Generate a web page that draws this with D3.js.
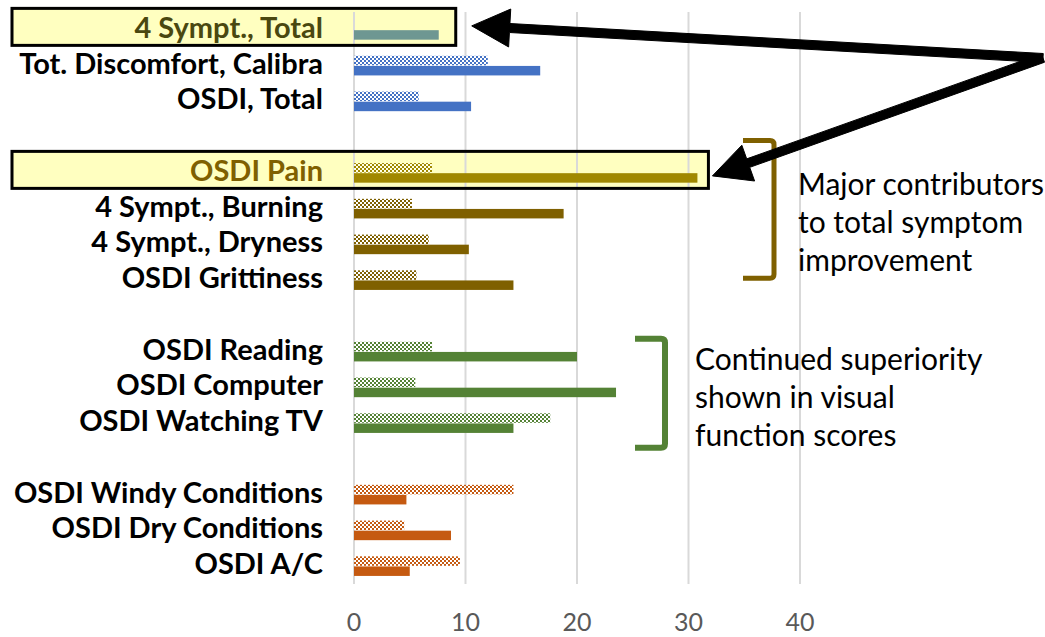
<!DOCTYPE html>
<html>
<head>
<meta charset="utf-8">
<script src="https://cdn.jsdelivr.net/npm/d3@7"></script>
<style>
  html, body { margin: 0; padding: 0; background: #ffffff; }
  svg { display: block; }
  text { font-family: Lato, "Open Sans", "Noto Sans", sans-serif; }
</style>
</head>
<body>
<svg id="chart" width="1045" height="637"></svg>
<script>
// Symptom and visual-function categories, top to bottom
const categories = [
  "4 Sympt., Total",
  "Tot. Discomfort, Calibra",
  "OSDI, Total",
  "OSDI Pain",
  "4 Sympt., Burning",
  "4 Sympt., Dryness",
  "OSDI Grittiness",
  "OSDI Reading",
  "OSDI Computer",
  "OSDI Watching TV",
  "OSDI Windy Conditions",
  "OSDI Dry Conditions",
  "OSDI A/C"
];
// Group each category belongs to (blank slot between groups)
const groupOf = [0, 0, 0, 1, 1, 1, 1, 2, 2, 2, 3, 3, 3];
// Checkered series (upper bar of each pair)
const checkeredValues = [null, 12.0, 5.8, 7.0, 5.2, 6.7, 5.6, 7.0, 5.5, 17.6, 14.3, 4.5, 9.5];
// Solid series (lower bar of each pair)
const solidValues = [7.6, 16.7, 10.5, 30.8, 18.8, 10.3, 14.3, 20.0, 23.5, 14.3, 4.7, 8.7, 5.0];
// Axis ticks
const tickValues = [0, 10, 20, 30, 40];
// Bar colours per category
const barColors = [
  "#6E9792",
  "#4472C4", "#4472C4",
  "#A08800", "#7F6000", "#7F6000", "#7F6000",
  "#548235", "#548235", "#548235",
  "#C55A11", "#C55A11", "#C55A11"
];
// Label colours per category
const labelColors = [
  "#4A4810", "#000000", "#000000",
  "#7F6000", "#000000", "#000000", "#000000",
  "#000000", "#000000", "#000000",
  "#000000", "#000000", "#000000"
];
// Highlighted categories
const highlighted = ["4 Sympt., Total", "OSDI Pain"];
// Bracket annotations
const bracketNotes = [
  { lines: ["Major contributors", "to total symptom", "improvement"], first: "OSDI Pain", last: "OSDI Grittiness", color: "#7F6000" },
  { lines: ["Continued superiority", "shown in visual", "function scores"], first: "OSDI Reading", last: "OSDI Watching TV", color: "#548235" }
];

const svg = d3.select("#chart");
const defs = svg.append("defs");

const slots = categories.map((c, i) => i + groupOf[i]);
const nSlots = d3.max(slots) + 1;

const x = d3.scaleLinear().domain([0, 40]).range([354, 800]);
const y = d3.scaleBand().domain(d3.range(nSlots)).range([12, 584]);
const sub = d3.scaleBand().domain(["checkered", "solid"]).range([-9.8, 9.8]).paddingInner(0.06);

const rowCenter = i => y(slots[i]) + y.bandwidth() / 2;
const rowIndex = name => categories.indexOf(name);

// Checkerboard patterns, one per colour
const patternId = c => "chk" + c.replace("#", "");
Array.from(new Set(barColors)).forEach(c => {
  const p = defs.append("pattern")
    .attr("id", patternId(c))
    .attr("patternUnits", "userSpaceOnUse")
    .attr("width", 4).attr("height", 4);
  p.append("rect").attr("x", 0).attr("y", 0).attr("width", 2).attr("height", 2).attr("fill", c);
  p.append("rect").attr("x", 2).attr("y", 2).attr("width", 2).attr("height", 2).attr("fill", c);
  p.append("rect").attr("x", 2).attr("y", 0).attr("width", 2).attr("height", 2).attr("fill", "#ffffff").attr("fill-opacity", 0.6);
  p.append("rect").attr("x", 0).attr("y", 2).attr("width", 2).attr("height", 2).attr("fill", "#ffffff").attr("fill-opacity", 0.6);
});

// Highlight boxes (fill behind the chart)
const boxPad = [17, 11];
const boxes = highlighted.map((name, k) => {
  const i = rowIndex(name);
  const c = rowCenter(i);
  const right = x(Math.max(solidValues[i] || 0, checkeredValues[i] || 0)) + boxPad[k];
  return { x0: 12, x1: right, y0: c - 21.5, y1: c + 15.5 };
});
svg.append("g").selectAll("rect").data(boxes).join("rect")
  .attr("x", d => d.x0).attr("y", d => d.y0)
  .attr("width", d => d.x1 - d.x0).attr("height", d => d.y1 - d.y0)
  .attr("fill", "#FFFFC0");

// Gridlines
svg.append("g").selectAll("line").data(tickValues).join("line")
  .attr("x1", d => x(d)).attr("x2", d => x(d))
  .attr("y1", 12).attr("y2", 584)
  .attr("stroke", "#D9D9D9").attr("stroke-width", 2);

// Bars
const bars = svg.append("g");
bars.selectAll("rect.chk").data(categories.map((c, i) => i).filter(i => checkeredValues[i] != null))
  .join("rect").attr("class", "chk")
  .attr("x", x(0))
  .attr("y", i => rowCenter(i) + sub("checkered"))
  .attr("width", i => x(checkeredValues[i]) - x(0))
  .attr("height", sub.bandwidth())
  .attr("fill", i => `url(#${patternId(barColors[i])})`);
bars.selectAll("rect.sol").data(categories.map((c, i) => i).filter(i => solidValues[i] != null))
  .join("rect").attr("class", "sol")
  .attr("x", x(0))
  .attr("y", i => rowCenter(i) + sub("solid"))
  .attr("width", i => x(solidValues[i]) - x(0))
  .attr("height", sub.bandwidth())
  .attr("fill", i => barColors[i]);

// Category labels
svg.append("g").selectAll("text").data(categories).join("text")
  .attr("x", 323)
  .attr("y", (d, i) => rowCenter(i) + 8)
  .attr("text-anchor", "end")
  .attr("font-size", 29)
  .attr("font-weight", 700)
  .attr("fill", (d, i) => labelColors[i])
  .text(d => d);

// Highlight box borders
svg.append("g").selectAll("rect").data(boxes).join("rect")
  .attr("x", d => d.x0).attr("y", d => d.y0)
  .attr("width", d => d.x1 - d.x0).attr("height", d => d.y1 - d.y0)
  .attr("fill", "none").attr("stroke", "#000000").attr("stroke-width", 3);

// X axis tick labels
svg.append("g").selectAll("text").data(tickValues).join("text")
  .attr("x", d => x(d)).attr("y", 631)
  .attr("text-anchor", "middle")
  .attr("font-size", 25)
  .attr("fill", "#595959")
  .text(d => d);

// Brackets with notes
const bracketGeom = [
  { xr: 774, w: 31, topOff: -32.5, botOff: -2, sw: 5, tx: 798, t0: 195 },
  { xr: 665, w: 30, topOff: -13, botOff: 24.5, sw: 6, tx: 695, t0: 370 }
];
bracketNotes.forEach((b, k) => {
  const g = bracketGeom[k];
  const top = rowCenter(rowIndex(b.first)) + g.topOff;
  const bot = rowCenter(rowIndex(b.last)) + g.botOff;
  const xr = g.xr, xl = xr - g.w, r = 4;
  svg.append("path")
    .attr("d", `M${xl},${top} H${xr - r} Q${xr},${top} ${xr},${top + r} V${bot - r} Q${xr},${bot} ${xr - r},${bot} H${xl}`)
    .attr("fill", "none").attr("stroke", b.color).attr("stroke-width", g.sw);
  svg.append("g").selectAll("text").data(b.lines).join("text")
    .attr("x", g.tx).attr("y", (d, j) => g.t0 + j * 38)
    .attr("font-size", 30)
    .attr("fill", "#000000")
    .text(d => d);
});

// Pointer arrows toward the highlighted rows
function arrowPath(tx, ty, fx, fy, shaft, headLen, headHalf) {
  const dx = tx - fx, dy = ty - fy;
  const len = Math.hypot(dx, dy);
  const ux = dx / len, uy = dy / len;
  const nx = -uy, ny = ux;
  const bx = tx - ux * headLen, by = ty - uy * headLen;
  const pts = [
    [fx + nx * shaft / 2, fy + ny * shaft / 2],
    [bx + nx * shaft / 2, by + ny * shaft / 2],
    [bx + nx * headHalf, by + ny * headHalf],
    [tx, ty],
    [bx - nx * headHalf, by - ny * headHalf],
    [bx - nx * shaft / 2, by - ny * shaft / 2],
    [fx - nx * shaft / 2, fy - ny * shaft / 2]
  ];
  return "M" + pts.map(p => p.join(",")).join("L") + "Z";
}
const tail = [1043, 58];
const arrowGap = [[16, -1], [4, 6]];
const arrowTargets = boxes.map((b, k) => [b.x1 + arrowGap[k][0], (b.y0 + b.y1) / 2 + arrowGap[k][1]]);
svg.append("g").selectAll("path").data(arrowTargets).join("path")
  .attr("d", d => arrowPath(d[0], d[1], tail[0], tail[1], 9, 38, 19))
  .attr("fill", "#000000")
  .attr("stroke", "#000000").attr("stroke-width", 1).attr("stroke-linejoin", "round");
</script>
</body>
</html>
